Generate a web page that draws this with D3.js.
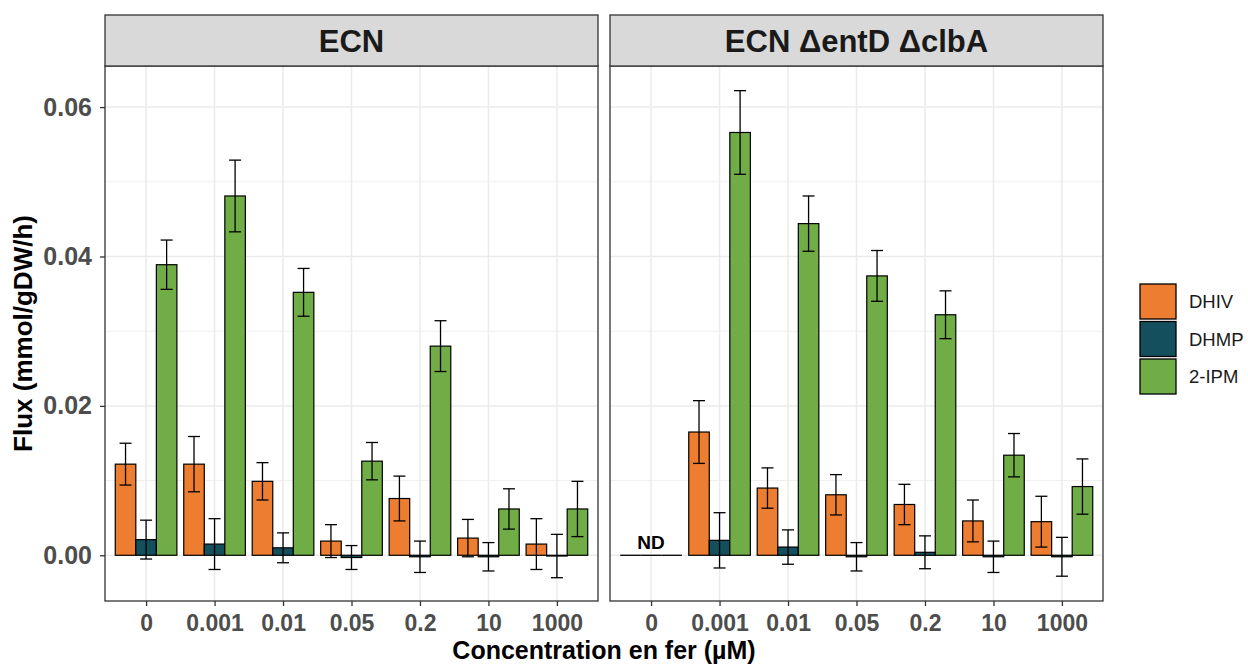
<!DOCTYPE html>
<html>
<head>
<meta charset="utf-8">
<script src="https://cdn.jsdelivr.net/npm/d3@7"></script>
<style>
  body { margin: 0; background: #fff; }
  svg { display: block; }
  text { font-family: Arial, "Liberation Sans", sans-serif; }
</style>
</head>
<body>
<svg id="chart" width="1248" height="666"></svg>
<script>
// ---------------- data ----------------
const categories = ["0", "0.001", "0.01", "0.05", "0.2", "10", "1000"];
const panels = ["ECN", "ECN ΔentD ΔclbA"];
const seriesNames = ["DHIV", "DHMP", "2-IPM"];
const seriesColors = ["#ED7D31", "#134F5C", "#70AD47"];
const yTicks = [0, 0.02, 0.04, 0.06];
const yMinorTicks = [0.01, 0.03, 0.05];

// ECN
const ecnDHIV   = [0.0122, 0.0122, 0.0099, 0.0019, 0.0076, 0.0023, 0.0015];
const ecnDHIVsd = [0.0028, 0.0037, 0.0025, 0.0022, 0.0030, 0.0025, 0.0034];
const ecnDHMP   = [0.0021, 0.0015, 0.0010, -0.0003, -0.0002, -0.0002, -0.0001];
const ecnDHMPsd = [0.0026, 0.0034, 0.0020, 0.0016, 0.0021, 0.0019, 0.0029];
const ecnIPM    = [0.0389, 0.0481, 0.0352, 0.0126, 0.0280, 0.0062, 0.0062];
const ecnIPMsd  = [0.0033, 0.0048, 0.0032, 0.0025, 0.0034, 0.0027, 0.0037];

// ECN ΔentD ΔclbA  (concentration 0: not determined)
const mutDHIV   = [0, 0.0165, 0.0090, 0.0081, 0.0068, 0.0046, 0.0045];
const mutDHIVsd = [null, 0.0042, 0.0027, 0.0027, 0.0027, 0.0028, 0.0034];
const mutDHMP   = [0, 0.0020, 0.0011, -0.0002, 0.0004, -0.0002, -0.0002];
const mutDHMPsd = [null, 0.0037, 0.0023, 0.0019, 0.0022, 0.0021, 0.0026];
const mutIPM    = [0, 0.0566, 0.0444, 0.0374, 0.0322, 0.0134, 0.0092];
const mutIPMsd  = [null, 0.0056, 0.0037, 0.0034, 0.0032, 0.0029, 0.0037];
const ndLabels  = ["ND", null, null, null, null, null, null];

const panelData = [
  { title: panels[0], values: [ecnDHIV, ecnDHMP, ecnIPM], sds: [ecnDHIVsd, ecnDHMPsd, ecnIPMsd], nd: [null,null,null,null,null,null,null] },
  { title: panels[1], values: [mutDHIV, mutDHMP, mutIPM], sds: [mutDHIVsd, mutDHMPsd, mutIPMsd], nd: ndLabels }
];

// ---------------- layout ----------------
const svg = d3.select("#chart");
const panelX = [[105, 598], [610, 1103]];
const stripTop = 15, panelTop = 66, panelBottom = 601;
const grid = "#EBEBEB", frame = "#333333", tickText = "#4D4D4D";

const y = d3.scaleLinear().domain([-0.00612, 0.0655]).range([panelBottom, panelTop]);

panelData.forEach((p, pi) => {
  const [x0, x1] = panelX[pi];
  const x = d3.scalePoint().domain(categories).range([x0, x1]).padding(0.6);
  const step = x.step();
  const barW = step * 0.9 / seriesNames.length;
  const g = svg.append("g");

  // background grid
  g.selectAll(".ymin").data(yMinorTicks).join("line")
    .attr("x1", x0).attr("x2", x1)
    .attr("y1", d => y(d)).attr("y2", d => y(d))
    .attr("stroke", grid).attr("stroke-width", 0.8);
  g.selectAll(".ymaj").data(yTicks).join("line")
    .attr("x1", x0).attr("x2", x1)
    .attr("y1", d => y(d)).attr("y2", d => y(d))
    .attr("stroke", grid).attr("stroke-width", 1.5);
  g.selectAll(".xmaj").data(categories).join("line")
    .attr("x1", d => x(d)).attr("x2", d => x(d))
    .attr("y1", panelTop).attr("y2", panelBottom)
    .attr("stroke", grid).attr("stroke-width", 1.5);

  // bars (zero-height bars are drawn as their outline: a line at 0)
  p.values.forEach((vals, si) => {
    const rows = categories.map((c, i) => ({ c, v: vals[i] }));
    g.selectAll(null).data(rows.filter(d => d.v !== 0)).join("rect")
      .attr("x", d => x(d.c) + (si - 1.5) * barW)
      .attr("width", barW)
      .attr("y", d => Math.min(y(d.v), y(0)))
      .attr("height", d => Math.abs(y(d.v) - y(0)))
      .attr("fill", seriesColors[si])
      .attr("stroke", "#000").attr("stroke-width", 1.2);
    g.selectAll(null).data(rows.filter(d => d.v === 0)).join("line")
      .attr("x1", d => x(d.c) + (si - 1.5) * barW)
      .attr("x2", d => x(d.c) + (si - 0.5) * barW)
      .attr("y1", y(0)).attr("y2", y(0))
      .attr("stroke", "#000").attr("stroke-width", 1.3);
  });

  // error bars
  p.values.forEach((vals, si) => {
    const sds = p.sds[si];
    const eb = g.selectAll(null)
      .data(categories.map((c, i) => ({ c, v: vals[i], s: sds[i] })).filter(d => d.s != null))
      .join("g")
      .attr("transform", d => `translate(${x(d.c) + (si - 1) * barW},0)`);
    eb.append("line").attr("x1", 0).attr("x2", 0)
      .attr("y1", d => y(d.v + d.s)).attr("y2", d => y(d.v - d.s))
      .attr("stroke", "#000").attr("stroke-width", 1.3);
    eb.append("line").attr("x1", -6).attr("x2", 6)
      .attr("y1", d => y(d.v + d.s)).attr("y2", d => y(d.v + d.s))
      .attr("stroke", "#000").attr("stroke-width", 1.3);
    eb.append("line").attr("x1", -6).attr("x2", 6)
      .attr("y1", d => y(d.v - d.s)).attr("y2", d => y(d.v - d.s))
      .attr("stroke", "#000").attr("stroke-width", 1.3);
  });

  // ND labels
  g.selectAll(null).data(categories.map((c, i) => ({ c, t: p.nd[i] })).filter(d => d.t))
    .join("text")
    .attr("x", d => x(d.c)).attr("y", y(0) - 6)
    .attr("text-anchor", "middle")
    .attr("font-size", 19).attr("font-weight", "bold").attr("fill", "#000")
    .text(d => d.t);

  // panel frame
  g.append("rect").attr("x", x0).attr("y", panelTop)
    .attr("width", x1 - x0).attr("height", panelBottom - panelTop)
    .attr("fill", "none").attr("stroke", frame).attr("stroke-width", 1.3);

  // strip
  g.append("rect").attr("x", x0).attr("y", stripTop)
    .attr("width", x1 - x0).attr("height", panelTop - stripTop)
    .attr("fill", "#D9D9D9").attr("stroke", frame).attr("stroke-width", 1.3);
  g.append("text").attr("x", (x0 + x1) / 2).attr("y", (stripTop + panelTop) / 2)
    .attr("dy", "0.36em").attr("text-anchor", "middle")
    .attr("font-size", 31).attr("font-weight", "bold").attr("fill", "#1A1A1A")
    .text(p.title);

  // x axis
  const xa = svg.append("g").attr("transform", `translate(0,${panelBottom})`)
    .call(d3.axisBottom(x).tickSize(5).tickPadding(9));
  xa.select(".domain").remove();
  xa.selectAll(".tick line").attr("stroke", frame).attr("stroke-width", 1.3);
  xa.selectAll(".tick text").attr("font-size", 23).attr("font-weight", "bold")
    .attr("fill", tickText).attr("font-family", "Arial, 'Liberation Sans', sans-serif");

  // y axis on first panel only
  if (pi === 0) {
    const ya = svg.append("g").attr("transform", `translate(${x0},0)`)
      .call(d3.axisLeft(y).tickValues(yTicks).tickFormat(d3.format(".2f")).tickSize(5).tickPadding(8));
    ya.select(".domain").remove();
    ya.selectAll(".tick line").attr("stroke", frame).attr("stroke-width", 1.3);
    ya.selectAll(".tick text").attr("font-size", 25).attr("font-weight", "bold")
      .attr("fill", tickText).attr("font-family", "Arial, 'Liberation Sans', sans-serif");
  }
});

// axis titles
svg.append("text").attr("x", 604).attr("y", 659)
  .attr("text-anchor", "middle").attr("font-size", 25).attr("font-weight", "bold")
  .attr("fill", "#000").text("Concentration en fer (µM)");
svg.append("text").attr("transform", `translate(32,${(panelTop + panelBottom) / 2}) rotate(-90)`)
  .attr("text-anchor", "middle").attr("font-size", 26).attr("font-weight", "bold")
  .attr("fill", "#000").text("Flux (mmol/gDW/h)");

// legend
const legend = svg.append("g").attr("transform", "translate(1140,284)");
seriesNames.forEach((name, i) => {
  legend.append("rect").attr("x", 0).attr("y", i * 37.5)
    .attr("width", 36).attr("height", 35)
    .attr("fill", seriesColors[i]).attr("stroke", "#000").attr("stroke-width", 1.3);
  legend.append("text").attr("x", 49).attr("y", i * 37.5 + 17.5).attr("dy", "0.36em")
    .attr("font-size", 18.5).attr("fill", "#1A1A1A").text(name);
});
</script>
</body>
</html>
